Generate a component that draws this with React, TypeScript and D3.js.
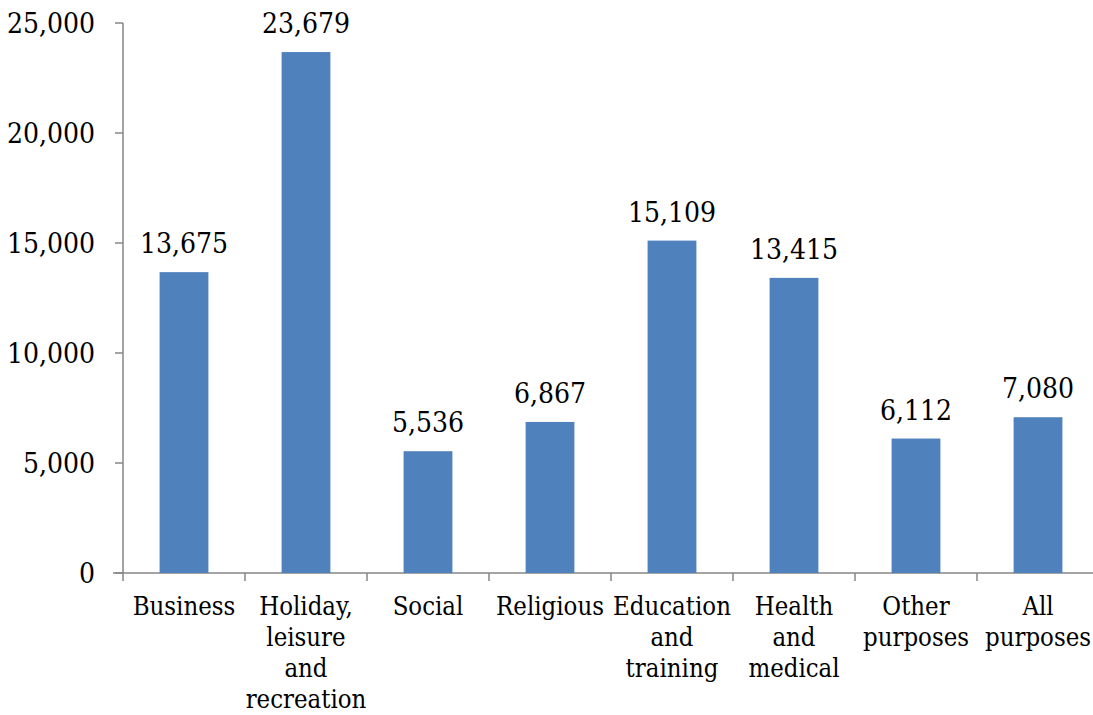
import React from "react";
import * as d3 from "d3";

const categories: string[][] = [
  ["Business"],
  ["Holiday,", "leisure", "and", "recreation"],
  ["Social"],
  ["Religious"],
  ["Education", "and", "training"],
  ["Health", "and", "medical"],
  ["Other", "purposes"],
  ["All", "purposes"],
];
const values: number[] = [13675, 23679, 5536, 6867, 15109, 13415, 6112, 7080];
const yTicks: number[] = [0, 5000, 10000, 15000, 20000, 25000];

const W = 1093;
const H = 715;
const left = 123;
const right = 1099;
const top = 23;
const bottom = 573;
const font = "'DejaVu Serif Condensed', 'DejaVu Serif', serif";
const fsNum = 28;
const fsCat = 25.5;

export default function App() {
  const x = d3
    .scaleBand<number>()
    .domain(values.map((_, i) => i))
    .range([left, right])
    .paddingInner(0.6)
    .paddingOuter(0.3);
  const step = (right - left) / values.length;
  const y = d3.scaleLinear().domain([0, 25000]).range([bottom, top]);
  const fmt = d3.format(",");
  const axisColor = "#868686";
  return (
    <svg
      width={W}
      height={H}
      style={{ position: "absolute", left: 0, top: 0, background: "#fff" }}
      fontFamily={font}
      fontStretch="condensed"
    >
      <line x1={left} x2={left} y1={top} y2={bottom} stroke={axisColor} strokeWidth={1.5} />
      <line x1={left - 10} x2={W} y1={bottom} y2={bottom} stroke={axisColor} strokeWidth={1.5} />
      {yTicks.map((t) => (
        <g key={t}>
          <line x1={left - 8} x2={left} y1={y(t)} y2={y(t)} stroke={axisColor} strokeWidth={1.5} />
          <text x={left - 28} y={y(t)} dy="0.36em" textAnchor="end" fill="#000" fontSize={fsNum}>
            {fmt(t)}
          </text>
        </g>
      ))}
      {values.map((_, i) => (
        <line
          key={"t" + i}
          x1={left + i * step}
          x2={left + i * step}
          y1={bottom}
          y2={bottom + 8}
          stroke={axisColor}
          strokeWidth={1.5}
        />
      ))}
      {values.map((v, i) => (
        <g key={i}>
          <rect x={x(i)} y={y(v)} width={x.bandwidth()} height={bottom - y(v)} fill="#4F81BD" />
          <text
            x={x(i)! + x.bandwidth() / 2}
            y={y(v) - 19}
            textAnchor="middle"
            fill="#000"
            fontSize={fsNum}
          >
            {fmt(v)}
          </text>
          {categories[i].map((line, j) => (
            <text
              key={j}
              x={left + (i + 0.5) * step}
              y={615 + j * 31}
              textAnchor="middle"
              fill="#000"
              fontSize={fsCat}
            >
              {line}
            </text>
          ))}
        </g>
      ))}
    </svg>
  );
}
